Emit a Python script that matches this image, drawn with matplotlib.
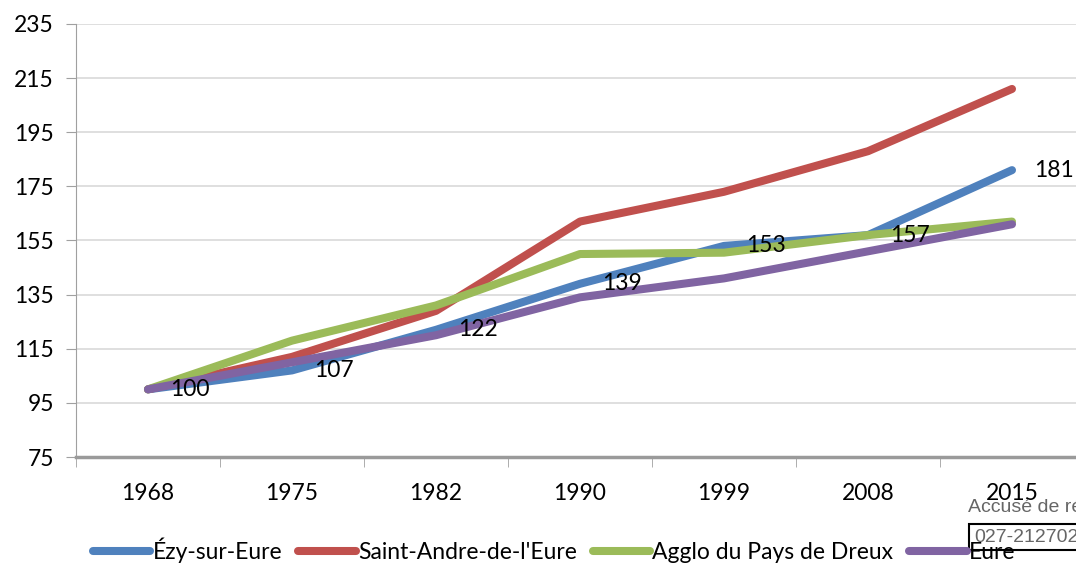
import matplotlib
matplotlib.use("Agg")
import matplotlib.pyplot as plt

years = ["1968", "1975", "1982", "1990", "1999", "2008", "2015"]
ezy = [100, 107, 122, 139, 153, 157, 181]
saint_andre = [100, 112, 129, 162, 173, 188, 211]
agglo = [100, 118, 131, 150, 150.5, 157, 162]
eure = [100, 110, 120, 134, 141, 151, 161]
series_names = ["Ézy-sur-Eure", "Saint-Andre-de-l'Eure", "Agglo du Pays de Dreux", "Eure"]
colors = ["#4F81BD", "#C0504D", "#9BBB59", "#8064A2"]
y_ticks = [75, 95, 115, 135, 155, 175, 195, 215, 235]

plt.rcParams['font.family'] = ['Lato', 'DejaVu Sans']

W, H = 1076, 563
fig = plt.figure(figsize=(W / 100, H / 100), dpi=100)
ax = fig.add_axes([76 / W, 106 / H, 1008 / W, 433 / H])

x = list(range(len(years)))
for vals, name, c in zip([ezy, saint_andre, agglo, eure], series_names, colors):
    ax.plot(x, vals, color=c, lw=5.8, solid_capstyle='round', solid_joinstyle='round', label=name)

for xi, v in zip(x, ezy):
    ax.annotate(str(v), (xi, v), xytext=(16, 0), textcoords='offset points',
                ha='left', va='center', fontsize=16.5, color='black')

ax.set_xlim(-0.5, 6.5)
ax.set_ylim(75, 235)
ax.set_yticks(y_ticks)
ax.set_xticks(x)
ax.set_xticklabels(years)
ax.tick_params(axis='y', labelsize=16.5, length=7, color='#a0a0a0', pad=9)
ax.tick_params(axis='x', labelsize=16.5, length=0, pad=19)
ax.set_xticks([i - 0.5 for i in range(8)], minor=True)
ax.tick_params(axis='x', which='minor', length=7, color='#a0a0a0', direction='out')
ax.grid(axis='y', color='#d9d9d9', lw=1.2)
ax.set_axisbelow(True)
for s in ['top', 'right']:
    ax.spines[s].set_visible(False)
ax.spines['left'].set_color('#a0a0a0')
ax.spines['bottom'].set_color('#9a9a9a')
ax.spines['bottom'].set_linewidth(2.5)

fig.legend(loc='center left', bbox_to_anchor=(93 / W, 13 / H), ncol=4, frameon=False,
           fontsize=16.5, handlelength=2.5, handletextpad=0.1, columnspacing=0.7,
           borderaxespad=0, borderpad=0)

fig.text(968 / W, (H - 507) / H, "Accusé de réception", fontsize=14, color='#666666',
         family=['Liberation Sans'], va='center', ha='left')
fig.text(974 / W, (H - 537) / H, "027-212702355", fontsize=14, color='#666666',
         family=['Liberation Sans'], va='center', ha='left',
         bbox=dict(boxstyle='square,pad=0.25', fc='none', ec='black', lw=1.5))

fig.savefig("out.png", dpi=100)
